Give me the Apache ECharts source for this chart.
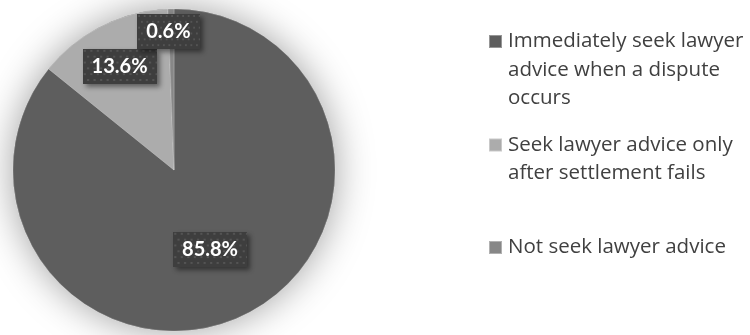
<!DOCTYPE html>
<html>
<head>
<meta charset="utf-8">
<title>Lawyer advice</title>
<script src="https://cdn.jsdelivr.net/npm/echarts@6/dist/echarts.min.js"></script>
<style>
  html, body { margin: 0; padding: 0; background: #ffffff; }
  #chart { width: 750px; height: 335px; }
</style>
</head>
<body>
<div id="chart"></div>
<script>
// Share of respondents by when they would seek a lawyer's advice
const categories = [
  'Immediately seek lawyer advice when a dispute occurs',
  'Seek lawyer advice only after settlement fails',
  'Not seek lawyer advice'
];
const shares = [85.8, 13.6, 0.6];
const legendLines = [
  ['Immediately seek lawyer', 'advice when a dispute', 'occurs'],
  ['Seek lawyer advice only', 'after settlement fails'],
  ['Not seek lawyer advice']
];
const sliceColors = ['#5e5e5e', '#acacac', '#878787'];

// label nudges from the default inside spot
const labelNudge = [[0, 4], [-17, -29], [-4, -55]];
// vertical centre of each legend marker
const legendMarkerY = [41.5, 145, 247.5];
const LINE_H = 28.5;

// dotted dark fill used behind the value labels
function dottedFill(w, h) {
  const c = document.createElement('canvas');
  c.width = w; c.height = h;
  const g = c.getContext('2d');
  g.fillStyle = '#3e3e3e';
  g.fillRect(0, 0, w, h);
  g.fillStyle = '#545454';
  for (let y = 1, row = 0; y < h; y += 6, row++) {
    for (let x = (row % 2) * 3 + 1; x < w; x += 6) {
      g.fillRect(x, y, 2, 2);
    }
  }
  return c;
}
const labelBg = dottedFill(68, 36);

const total = shares.reduce((a, b) => a + b, 0);
const chart = echarts.init(document.getElementById('chart'), null, { renderer: 'canvas' });

// each legend entry keeps its marker beside the first text line:
// blank lines above the text put that first line in the block's middle
const legends = categories.map((name, i) => {
  const n = legendLines[i].length;
  return {
    orient: 'vertical',
    left: 488,
    top: legendMarkerY[i] - (2 * n - 1) * LINE_H / 2,
    padding: 0,
    icon: 'rect',
    itemWidth: 13,
    itemHeight: 13,
    itemGap: 0,
    selectedMode: false,
    data: [name],
    formatter: () => '\n'.repeat(n - 1) + legendLines[i].join('\n'),
    textStyle: {
      fontFamily: 'Open Sans',
      fontSize: 20.5,
      lineHeight: LINE_H,
      color: '#404040',
      padding: [0, 0, 0, 1]
    }
  };
});

chart.setOption({
  animation: false,
  backgroundColor: '#ffffff',
  color: sliceColors,
  legend: legends,
  series: [
    {
      // soft glow under the pie
      type: 'pie',
      silent: true,
      center: [174, 170],
      radius: 161,
      label: { show: false },
      labelLine: { show: false },
      itemStyle: {
        color: '#5e5e5e',
        shadowBlur: 38,
        shadowColor: 'rgba(0,0,0,0.38)'
      },
      data: [{ value: total, name: '__base' }]
    },
    {
      type: 'pie',
      center: [174, 170],
      radius: 161,
      startAngle: 90,
      clockwise: true,
      emphasis: { disabled: true },
      itemStyle: { borderColor: 'rgba(255,255,255,0.35)', borderWidth: 0.6 },
      label: {
        show: true,
        position: 'inside',
        formatter: p => p.value.toFixed(1) + '%',
        fontFamily: 'Lato',
        fontWeight: 'bold',
        fontSize: 20,
        color: '#ffffff',
        backgroundColor: { image: labelBg },
        padding: [8, 9, 7, 9],
        shadowColor: 'rgba(0,0,0,0.45)',
        shadowBlur: 5,
        shadowOffsetX: 3,
        shadowOffsetY: 3
      },
      labelLine: { show: false },
      labelLayout: p => ({ dx: labelNudge[p.dataIndex][0], dy: labelNudge[p.dataIndex][1] }),
      data: categories.map((name, i) => ({ name: name, value: shares[i] }))
    }
  ]
});
</script>
</body>
</html>
